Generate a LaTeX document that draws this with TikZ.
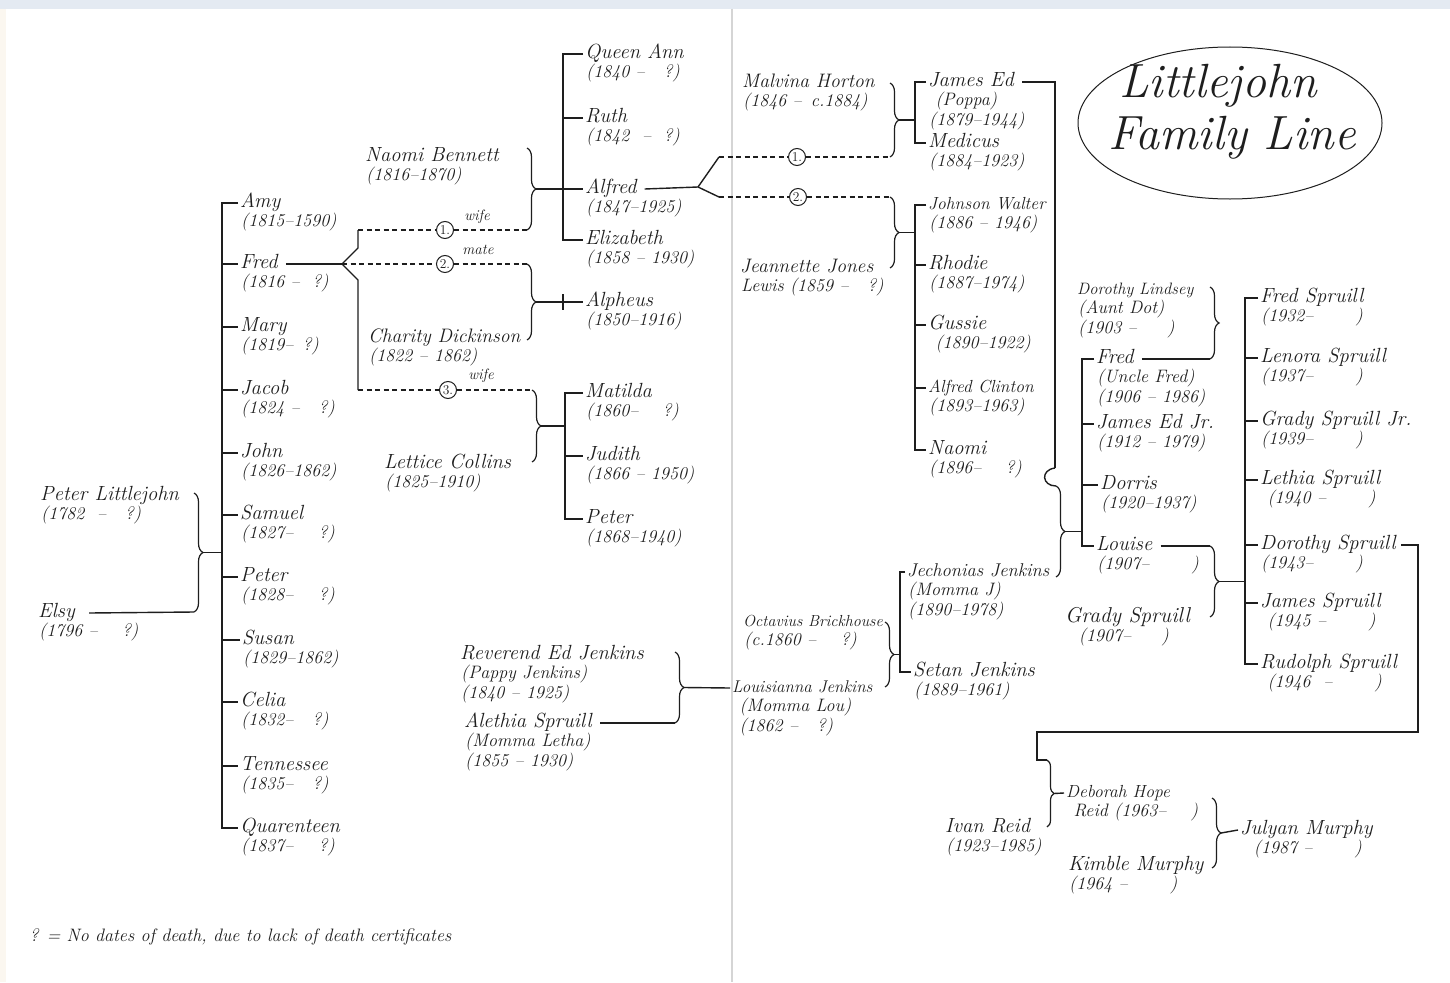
\documentclass[tikz,border=0pt]{standalone}
\usetikzlibrary{decorations.pathreplacing,shapes.geometric}
\definecolor{ink}{HTML}{1E1E1E}
\definecolor{band}{HTML}{E4EAF2}
\definecolor{fold}{HTML}{D5D5D5}
\definecolor{cream}{HTML}{FBF7F0}
\tikzset{
 nm/.style={anchor=west, inner sep=2pt, text=ink, text height=13pt, text depth=4pt},
 dt/.style={anchor=north west, inner sep=0pt, text=ink, font=\fontsize{18}{20}\selectfont\itshape, align=left},
 ln/.style={draw=ink, line width=1.4pt},
 dl/.style={draw=ink, line width=1.2pt, dash pattern=on 5pt off 3.5pt},
 br/.style={draw=ink, line width=1.2pt, decorate, decoration={brace, amplitude=#1}},
 br/.default=9pt,
 num/.style={circle, draw=ink, line width=1pt, fill=white, inner sep=0pt, minimum size=17pt, font=\fontsize{13.5}{13.5}\selectfont, text=ink},
 lab/.style={font=\fontsize{15}{15}\selectfont\itshape, text=ink, inner sep=1pt},
}
\newcommand{\fperson}[6][20.5]{%
 \node[nm, font=\fontsize{#1}{22}\selectfont\itshape] (#2) at (#3,#4) {#5};
 \node[dt] (#2-d) at (#3+3,#4+10) {#6};
}
\begin{document}
\begin{tikzpicture}[x=1pt,y=-1pt]
\fill[white] (0,0) rectangle (1450,982);
\useasboundingbox (0,0) rectangle (1450,982);
\fill[band] (0,0) rectangle (1450,9);
\fill[cream] (0,9) rectangle (6,982);
\draw[fold, line width=1.2pt] (732,9) -- (732,982);

% ---------- generation 1 ----------
\fperson{plj}{38}{496}{Peter Littlejohn}{(1782 \ – \ \ ?)}
\fperson{elsy}{36}{613}{Elsy}{(1796 – \quad ?)}
\coordinate (v1) at (222,0);
\coordinate (b0t) at (194,493);
\coordinate (b0b) at (194,612);
\draw[br] (b0t) -- (b0b);
\coordinate (b0) at (203,552.5);
\draw[ln] (b0) -- (b0 -| v1);
\draw[ln] ([xshift=12pt]elsy.east) -- (b0b);

% ---------- children of Peter & Elsy ----------
\fperson{amy}{238}{203}{Amy}{(1815–1590)}
\fperson{fred}{238}{264}{Fred}{(1816 – \ ?)}
\fperson{mary}{238}{327}{Mary}{(1819– \,?)}
\fperson{jacob}{238}{390}{Jacob}{(1824 – \ \ ?)}
\fperson{john}{238}{453}{John}{(1826–1862)}
\fperson{samuel}{238}{515}{Samuel}{(1827– \ \ \ ?)}
\fperson{peter}{238}{577}{Peter}{(1828– \ \ \ ?)}
\fperson{susan}{240}{640}{Susan}{(1829–1862)}
\fperson{celia}{238}{702}{Celia}{(1832– \ \ ?)}
\fperson{tenn}{238}{766}{Tennessee}{(1835– \ \ ?)}
\fperson{quar}{238}{828}{Quarenteen}{(1837– \ \ \ ?)}
\draw[ln] (amy.west) -- (amy.west -| v1) -- (quar.west -| v1) -- (quar.west);
\foreach \c in {fred,mary,jacob,john,samuel,peter,susan,celia,tenn}
  \draw[ln] (\c.west -| v1) -- (\c.west);

% ---------- Fred's three unions ----------
\coordinate (fk) at (342,264);
\coordinate (fku) at (358,230);
\coordinate (fkd) at (358,390);
\draw[ln] ([xshift=6pt]fred.east) -- (fk);
\draw[ln] (fk) -- (358,248) -- (fku);
\draw[ln] (fk) -- (358,280) -- (fkd);
\node[num] (c1) at (445,230) {1.};
\node[num] (c2) at (445,264) {2.};
\node[num] (c3) at (448,390) {3.};
\coordinate (nbb) at (527,230);
\coordinate (apt) at (527,264);
\coordinate (lct) at (532,390);
\draw[dl] (fku) -- (c1); \draw[dl] (c1) -- (nbb);
\draw[dl] (fk) -- (c2);  \draw[dl] (c2) -- (apt);
\draw[dl] (fkd) -- (c3); \draw[dl] (c3) -- (lct);
\node[lab] (w1) at (477,217) {wife};
\node[lab] (m2) at (478,250) {mate};
\node[lab] (w3) at (481,376) {wife};

% Naomi Bennett
\fperson{nbe}{363}{157}{Naomi Bennett}{(1816–1870)}
\draw[br] (527,148) -- (nbb);
\coordinate (nbt) at (536,189);
\coordinate (v2) at (563,0);
\draw[ln] (nbt) -- (nbt -| v2);
\fperson{qa}{583}{54}{Queen Ann}{(1840 – \ \ ?)}
\fperson{ruth}{583}{118}{Ruth}{(1842 \ – \ ?)}
\fperson{alf}{583}{189}{Alfred}{(1847–1925)}
\fperson{eliz}{583}{240}{Elizabeth}{(1858 – 1930)}
\draw[ln] (qa.west) -- (qa.west -| v2) -- (eliz.west -| v2) -- (eliz.west);
\foreach \c in {ruth,alf} \draw[ln] (\c.west -| v2) -- (\c.west);

% Charity Dickinson
\fperson[19.5]{cd}{366}{338}{Charity Dickinson}{(1822 – 1862)}
\draw[br] (apt) -- (527,340);
\coordinate (apb) at (536,302);
\fperson{alph}{583}{302}{Alpheus}{(1850–1916)}
\draw[ln] (apb) -- (alph.west);
\draw[ln] ([yshift=8pt]v2 |- apb) -- ([yshift=-8pt]v2 |- apb);

% Lettice Collins
\fperson{lc}{382}{464}{Lettice Collins}{(1825–1910)}
\draw[br] (lct) -- (532,462);
\coordinate (lcb) at (541,426);
\coordinate (v3) at (565,0);
\draw[ln] (lcb) -- (lcb -| v3);
\fperson{mat}{583}{393}{Matilda}{(1860– \quad ?)}
\fperson{jud}{583}{456}{Judith}{(1866 – 1950)}
\fperson{pet2}{583}{519}{Peter}{(1868–1940)}
\draw[ln] (mat.west) -- (mat.west -| v3) -- (pet2.west -| v3) -- (pet2.west);
\draw[ln] (jud.west -| v3) -- (jud.west);

% ---------- Alfred's two unions ----------
\coordinate (afk) at (698,187);
\draw[ln] ([xshift=6pt]alf.east) -- (afk);
\coordinate (afu) at (719,157);
\coordinate (afd) at (719,197);
\draw[ln] (afk) -- (afu);
\draw[ln] (afk) -- (afd);
\node[num] (d1) at (797,157) {1.};
\node[num] (d2) at (798,197) {2.};
\coordinate (mhb) at (890,157);
\coordinate (jjt) at (890,197);
\draw[dl] (afu) -- (d1); \draw[dl] (d1) -- (mhb);
\draw[dl] (afd) -- (d2); \draw[dl] (d2) -- (jjt);

\fperson[19.5]{mh}{740}{83}{Malvina Horton}{(1846 – \,c.1884)}
\draw[br] (890,83) -- (mhb);
\coordinate (mht) at (899,120);
\coordinate (v4) at (915,0);
\draw[ln] (mht) -- (mht -| v4);
\fperson{jed}{926}{82}{James Ed}{\ (Poppa)\\(1879–1944)}
\fperson{med}{926}{143}{Medicus}{(1884–1923)}
\draw[ln] (jed.west) -- (jed.west -| v4) -- (med.west -| v4) -- (med.west);

\fperson[19.5]{jjl}{738}{268}{Jeannette Jones}{Lewis (1859 – \ \ ?)}
\draw[br] (jjt) -- (890,268);
\coordinate (jjb) at (899,232.5);
\draw[ln] (jjb) -- (jjb -| v4);
\fperson[17.5]{jw}{926}{205}{Johnson Walter}{(1886 – 1946)}
\fperson{rho}{926}{265}{Rhodie}{(1887–1974)}
\fperson{gus}{926}{325}{Gussie}{\ (1890–1922)}
\fperson[17.5]{acl}{926}{388}{Alfred Clinton}{(1893–1963)}
\fperson{nao}{926}{450}{Naomi}{(1896– \quad ?)}
\draw[ln] (jw.west) -- (jw.west -| v4) -- (nao.west -| v4) -- (nao.west);
\foreach \c in {rho,gus,acl} \draw[ln] (\c.west -| v4) -- (\c.west);

% ---------- James Ed & Jechonias ----------
\coordinate (jv) at (1055,468);
\coordinate (jct) at (1056,486);
\draw[ln] ([xshift=6pt]jed.east) -| (jv);
\draw[ln] (jv) .. controls (1040,470) and (1042,486) .. (jct);
\draw[br] (jct) -- (1056,577);
\coordinate (jcb) at (1065,531.5);
\coordinate (v5) at (1082,0);
\draw[ln] (jcb) -- (jcb -| v5);
\fperson{ufr}{1094}{359}{Fred}{(Uncle Fred)\\(1906 – 1986)}
\fperson{jej}{1094}{424}{James Ed Jr.}{(1912 – 1979)}
\fperson{dor}{1098}{485}{Dorris}{(1920–1937)}
\fperson{lou}{1094}{546}{Louise}{(1907– \qquad )}
\draw[ln] (ufr.west) -- (ufr.west -| v5) -- (lou.west -| v5) -- (lou.west);
\foreach \c in {jej,dor} \draw[ln] (\c.west -| v5) -- (\c.west);

\fperson[16.5]{dli}{1075}{290}{Dorothy Lindsey}{(Aunt Dot)\\(1903 – \quad\ )}
\coordinate (dlb) at (1210,359);
\draw[br] (1210,287) -- (dlb);
\draw[ln] ([xshift=6pt]ufr.east) -- (dlb);

% Jechonias' parents
\coordinate (v6) at (900,0);
\fperson[18.5]{jec}{905}{572}{Jechonias Jenkins}{(Momma J)\\(1890–1978)}
\fperson{set}{911}{672}{Setan Jenkins}{(1889–1961)}
\draw[ln] (jec.west) -- (jec.west -| v6) -- (set.west -| v6) -- (set.west);
\fperson[16]{oct}{741}{622}{Octavius Brickhouse}{(c.1860 – \quad ?)}
\draw[br] (885,622) -- (885,687);
\coordinate (ocb) at (894,654.5);
\draw[ln] (ocb) -- (ocb -| v6);
\fperson[17]{lsj}{730}{688}{Louisianna Jenkins}{\ (Momma Lou)\\ \ (1862 – \ \ ?)}
\fperson{red}{458}{655}{Reverend Ed Jenkins}{(Pappy Jenkins)\\(1840 – 1925)}
\fperson{ale}{462}{723}{Alethia Spruill}{(Momma Letha)\\(1855 – 1930)}
\coordinate (alb) at (675,723);
\draw[br] (675,652) -- (alb);
\coordinate (reb) at (684,687.5);
\draw[ln] (reb) -- (lsj.west);
\draw[ln] ([xshift=6pt]ale.east) -- (alb);

% ---------- Louise & Grady Spruill ----------
\coordinate (lsp) at (1210,546);
\draw[ln] ([xshift=6pt]lou.east) -- (lsp);
\fperson[21.5]{gsp}{1063}{618}{Grady Spruill}{\ \ (1907– \quad\ )}
\draw[br] (lsp) -- (1210,617);
\coordinate (lsb) at (1219,581.5);
\coordinate (v7) at (1245,0);
\draw[ln] (lsb) -- (lsb -| v7);
\fperson{fsp}{1258}{298}{Fred Spruill}{(1932– \qquad )}
\fperson{len}{1258}{358}{Lenora Spruill}{(1937– \qquad )}
\fperson{gjr}{1258}{421}{Grady Spruill Jr.}{(1939– \qquad )}
\fperson{let}{1258}{480}{Lethia Spruill}{\ (1940 – \qquad )}
\fperson{dsp}{1258}{545}{Dorothy Spruill}{(1943– \qquad )}
\fperson{jsp}{1258}{603}{James Spruill}{\ (1945 – \qquad )}
\fperson{rud}{1258}{664}{Rudolph Spruill}{\ (1946 \ – \qquad )}
\draw[ln] (fsp.west) -- (fsp.west -| v7) -- (rud.west -| v7) -- (rud.west);
\foreach \c in {len,gjr,let,dsp,jsp} \draw[ln] (\c.west -| v7) -- (\c.west);

% ---------- Dorothy Spruill & Ivan Reid ----------
\coordinate (r1) at (1418,732);
\coordinate (r2) at (1037,760);
\coordinate (dbt) at (1047,760);
\draw[ln] ([xshift=3pt]dsp.east) -| (r1) -| (r2) -- (dbt);
\draw[br=7pt] (dbt) -- (1047,827);
\coordinate (dbm) at (1054,793.5);
\fperson[17.5]{deb}{1064}{793}{Deborah Hope}{\ Reid (1963– \quad )}
\draw[ln] (dbm) -- (deb.west);
\fperson{ivr}{943}{828}{Ivan Reid}{(1923–1985)}
\fperson{kim}{1066}{866}{Kimble Murphy}{(1964 – \qquad )}
\draw[br] (1212,798) -- (1212,868);
\coordinate (jmb) at (1221,833);
\fperson{jul}{1238}{830}{Julyan Murphy}{\ \ (1987 – \qquad )}
\draw[ln] (jmb) -- (jul.west);

% ---------- title ----------
\node[draw=ink, line width=1pt, ellipse, minimum width=304pt, minimum height=152pt] (title) at (1230,123) {};
\node[font=\fontsize{48}{48}\selectfont\itshape, text=ink] (t1) at (1218,86) {Littlejohn};
\node[font=\fontsize{48}{48}\selectfont\itshape, text=ink] (t2) at (1232,138) {Family Line};

% ---------- footnote ----------
\node[anchor=west, font=\fontsize{18}{20}\selectfont\itshape, text=ink] (note) at (26,937) {? = No dates of death, due to lack of death certificates};
\end{tikzpicture}
\end{document}
